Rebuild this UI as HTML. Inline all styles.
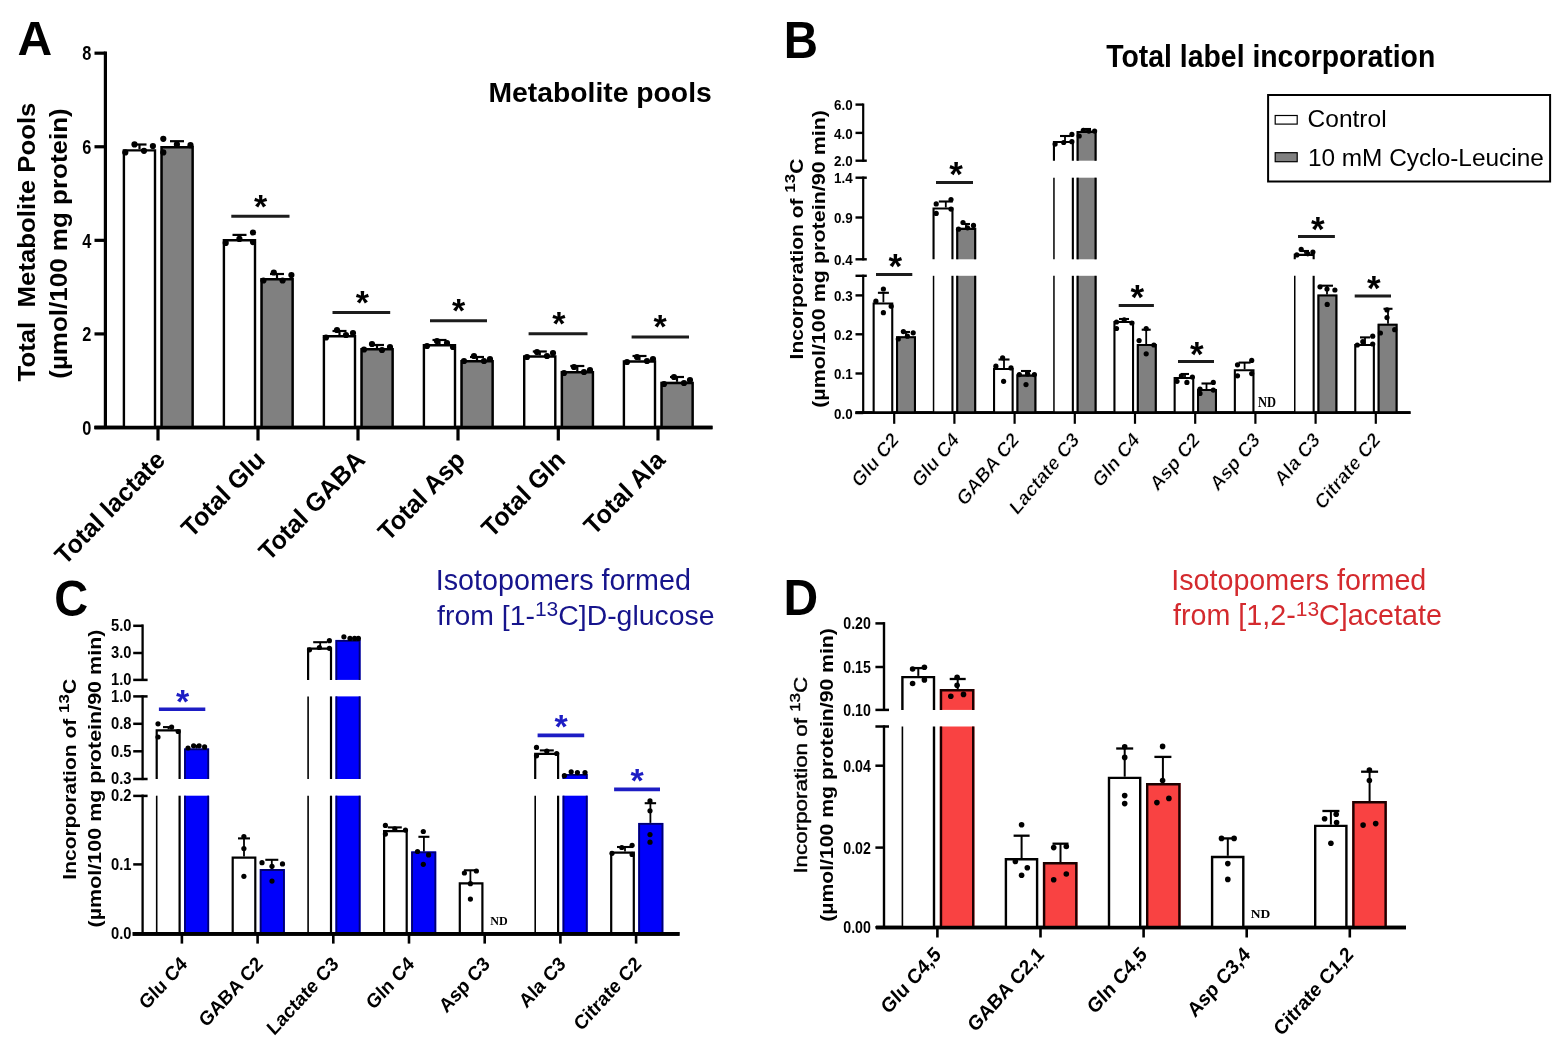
<!DOCTYPE html><html><head><meta charset="utf-8"><title>Figure</title><style>html,body{margin:0;padding:0;background:#fff;}svg{display:block;}</style></head><body>
<svg width="1561" height="1046" viewBox="0 0 1561 1046">
<rect width="1561" height="1046" fill="#fff"/>
<text transform="translate(17.5,54.5)" font-family="'Liberation Sans', Arial, sans-serif" font-size="48" font-weight="bold" text-anchor="start" fill="#000">A</text>
<text transform="translate(488.5,102)" font-family="'Liberation Sans', Arial, sans-serif" font-size="28.3" font-weight="bold" text-anchor="start" fill="#000">Metabolite pools</text>
<text transform="translate(35,242) scale(0.94,1) rotate(-90)" font-family="'Liberation Sans', Arial, sans-serif" font-size="25.8" font-weight="bold" text-anchor="middle" fill="#000">Total&#160; Metabolite Pools</text>
<text transform="translate(67,243.5) scale(0.94,1) rotate(-90)" font-family="'Liberation Sans', Arial, sans-serif" font-size="26" font-weight="bold" text-anchor="middle" fill="#000">(µmol/100 mg protein)</text>
<line x1="105.4" y1="51.5" x2="105.4" y2="429" stroke="#000" stroke-width="3.2" stroke-linecap="butt"/>
<line x1="94.5" y1="427.5" x2="712.5" y2="427.5" stroke="#000" stroke-width="3.5" stroke-linecap="butt"/>
<line x1="94.5" y1="53.18" x2="105.4" y2="53.18" stroke="#000" stroke-width="3.2" stroke-linecap="butt"/>
<text transform="translate(91.3,60.38) scale(0.84,1)" font-family="'Liberation Sans', Arial, sans-serif" font-size="19.5" font-weight="bold" text-anchor="end" fill="#000">8</text>
<line x1="94.5" y1="146.76" x2="105.4" y2="146.76" stroke="#000" stroke-width="3.2" stroke-linecap="butt"/>
<text transform="translate(91.3,153.96) scale(0.84,1)" font-family="'Liberation Sans', Arial, sans-serif" font-size="19.5" font-weight="bold" text-anchor="end" fill="#000">6</text>
<line x1="94.5" y1="240.34" x2="105.4" y2="240.34" stroke="#000" stroke-width="3.2" stroke-linecap="butt"/>
<text transform="translate(91.3,247.54) scale(0.84,1)" font-family="'Liberation Sans', Arial, sans-serif" font-size="19.5" font-weight="bold" text-anchor="end" fill="#000">4</text>
<line x1="94.5" y1="333.92" x2="105.4" y2="333.92" stroke="#000" stroke-width="3.2" stroke-linecap="butt"/>
<text transform="translate(91.3,341.12) scale(0.84,1)" font-family="'Liberation Sans', Arial, sans-serif" font-size="19.5" font-weight="bold" text-anchor="end" fill="#000">2</text>
<line x1="94.5" y1="427.5" x2="105.4" y2="427.5" stroke="#000" stroke-width="3.2" stroke-linecap="butt"/>
<text transform="translate(91.3,434.7) scale(0.84,1)" font-family="'Liberation Sans', Arial, sans-serif" font-size="19.5" font-weight="bold" text-anchor="end" fill="#000">0</text>
<rect x="122.7" y="149.2" width="33.5" height="278.3" fill="#fff"/>
<path d="M123.9,427.5 V150.4 H155 V427.5" fill="none" stroke="#000" stroke-width="2.4"/>
<rect x="160.4" y="146" width="33.4" height="281.5" fill="#808080"/>
<path d="M161.6,427.5 V147.2 H192.6 V427.5" fill="none" stroke="#000" stroke-width="2.4"/>
<line x1="158" y1="427.5" x2="158" y2="440.5" stroke="#000" stroke-width="3.2" stroke-linecap="butt"/>
<text transform="translate(166.5,461.5) scale(0.97,1) rotate(-45)" font-family="'Liberation Sans', Arial, sans-serif" font-size="25.7" font-weight="bold" text-anchor="end" fill="#000">Total lactate</text>
<rect x="222.7" y="239" width="33.5" height="188.5" fill="#fff"/>
<path d="M223.9,427.5 V240.2 H255 V427.5" fill="none" stroke="#000" stroke-width="2.4"/>
<rect x="260.4" y="278" width="33.4" height="149.5" fill="#808080"/>
<path d="M261.6,427.5 V279.2 H292.6 V427.5" fill="none" stroke="#000" stroke-width="2.4"/>
<line x1="258" y1="427.5" x2="258" y2="440.5" stroke="#000" stroke-width="3.2" stroke-linecap="butt"/>
<text transform="translate(266.5,461.5) scale(0.97,1) rotate(-45)" font-family="'Liberation Sans', Arial, sans-serif" font-size="25.7" font-weight="bold" text-anchor="end" fill="#000">Total Glu</text>
<rect x="322.7" y="335" width="33.5" height="92.5" fill="#fff"/>
<path d="M323.9,427.5 V336.2 H355 V427.5" fill="none" stroke="#000" stroke-width="2.4"/>
<rect x="360.4" y="348" width="33.4" height="79.5" fill="#808080"/>
<path d="M361.6,427.5 V349.2 H392.6 V427.5" fill="none" stroke="#000" stroke-width="2.4"/>
<line x1="358" y1="427.5" x2="358" y2="440.5" stroke="#000" stroke-width="3.2" stroke-linecap="butt"/>
<text transform="translate(366.5,461.5) scale(0.97,1) rotate(-45)" font-family="'Liberation Sans', Arial, sans-serif" font-size="25.7" font-weight="bold" text-anchor="end" fill="#000">Total GABA</text>
<rect x="422.7" y="344" width="33.5" height="83.5" fill="#fff"/>
<path d="M423.9,427.5 V345.2 H455 V427.5" fill="none" stroke="#000" stroke-width="2.4"/>
<rect x="460.4" y="360" width="33.4" height="67.5" fill="#808080"/>
<path d="M461.6,427.5 V361.2 H492.6 V427.5" fill="none" stroke="#000" stroke-width="2.4"/>
<line x1="458" y1="427.5" x2="458" y2="440.5" stroke="#000" stroke-width="3.2" stroke-linecap="butt"/>
<text transform="translate(466.5,461.5) scale(0.97,1) rotate(-45)" font-family="'Liberation Sans', Arial, sans-serif" font-size="25.7" font-weight="bold" text-anchor="end" fill="#000">Total Asp</text>
<rect x="523" y="355.3" width="33.5" height="72.2" fill="#fff"/>
<path d="M524.2,427.5 V356.5 H555.3 V427.5" fill="none" stroke="#000" stroke-width="2.4"/>
<rect x="560.7" y="371" width="33.4" height="56.5" fill="#808080"/>
<path d="M561.9,427.5 V372.2 H592.9 V427.5" fill="none" stroke="#000" stroke-width="2.4"/>
<line x1="558.3" y1="427.5" x2="558.3" y2="440.5" stroke="#000" stroke-width="3.2" stroke-linecap="butt"/>
<text transform="translate(566.8,461.5) scale(0.97,1) rotate(-45)" font-family="'Liberation Sans', Arial, sans-serif" font-size="25.7" font-weight="bold" text-anchor="end" fill="#000">Total Gln</text>
<rect x="622.7" y="360.3" width="33.5" height="67.2" fill="#fff"/>
<path d="M623.9,427.5 V361.5 H655 V427.5" fill="none" stroke="#000" stroke-width="2.4"/>
<rect x="660.4" y="381.8" width="33.4" height="45.7" fill="#808080"/>
<path d="M661.6,427.5 V383 H692.6 V427.5" fill="none" stroke="#000" stroke-width="2.4"/>
<line x1="658" y1="427.5" x2="658" y2="440.5" stroke="#000" stroke-width="3.2" stroke-linecap="butt"/>
<text transform="translate(666.5,461.5) scale(0.97,1) rotate(-45)" font-family="'Liberation Sans', Arial, sans-serif" font-size="25.7" font-weight="bold" text-anchor="end" fill="#000">Total Ala</text>
<line x1="139.5" y1="149.2" x2="139.5" y2="144.5" stroke="#000" stroke-width="2.2" stroke-linecap="butt"/>
<line x1="132.5" y1="144.5" x2="146.5" y2="144.5" stroke="#000" stroke-width="2.2" stroke-linecap="butt"/>
<line x1="177" y1="146" x2="177" y2="141.2" stroke="#000" stroke-width="2.2" stroke-linecap="butt"/>
<line x1="170" y1="141.2" x2="184" y2="141.2" stroke="#000" stroke-width="2.2" stroke-linecap="butt"/>
<circle cx="125.3" cy="152.4" r="3.1" fill="#000"/>
<circle cx="134.5" cy="144.4" r="3.1" fill="#000"/>
<circle cx="144" cy="150.8" r="3.1" fill="#000"/>
<circle cx="152.9" cy="146" r="3.1" fill="#000"/>
<circle cx="163.3" cy="138.8" r="3.1" fill="#000"/>
<circle cx="163.3" cy="152.4" r="3.1" fill="#000"/>
<circle cx="176.9" cy="144.4" r="3.1" fill="#000"/>
<circle cx="190.5" cy="145.2" r="3.1" fill="#000"/>
<line x1="239.5" y1="239" x2="239.5" y2="234.9" stroke="#000" stroke-width="2.2" stroke-linecap="butt"/>
<line x1="232.5" y1="234.9" x2="246.5" y2="234.9" stroke="#000" stroke-width="2.2" stroke-linecap="butt"/>
<line x1="277" y1="278" x2="277" y2="274" stroke="#000" stroke-width="2.2" stroke-linecap="butt"/>
<line x1="270" y1="274" x2="284" y2="274" stroke="#000" stroke-width="2.2" stroke-linecap="butt"/>
<circle cx="225.7" cy="242.9" r="3.1" fill="#000"/>
<circle cx="239.4" cy="238.9" r="3.1" fill="#000"/>
<circle cx="253" cy="232.5" r="3.1" fill="#000"/>
<circle cx="253" cy="242.1" r="3.1" fill="#000"/>
<circle cx="263.4" cy="280.5" r="3.1" fill="#000"/>
<circle cx="273.8" cy="272.5" r="3.1" fill="#000"/>
<circle cx="282.6" cy="280.5" r="3.1" fill="#000"/>
<circle cx="291.4" cy="275" r="3.1" fill="#000"/>
<line x1="339.5" y1="335" x2="339.5" y2="331" stroke="#000" stroke-width="2.2" stroke-linecap="butt"/>
<line x1="332.5" y1="331" x2="346.5" y2="331" stroke="#000" stroke-width="2.2" stroke-linecap="butt"/>
<line x1="377" y1="348" x2="377" y2="345" stroke="#000" stroke-width="2.2" stroke-linecap="butt"/>
<line x1="370" y1="345" x2="384" y2="345" stroke="#000" stroke-width="2.2" stroke-linecap="butt"/>
<circle cx="326" cy="337.5" r="3.1" fill="#000"/>
<circle cx="337" cy="330" r="3.1" fill="#000"/>
<circle cx="346" cy="335" r="3.1" fill="#000"/>
<circle cx="353" cy="333" r="3.1" fill="#000"/>
<circle cx="364" cy="349.5" r="3.1" fill="#000"/>
<circle cx="372" cy="344" r="3.1" fill="#000"/>
<circle cx="382" cy="350" r="3.1" fill="#000"/>
<circle cx="390" cy="347" r="3.1" fill="#000"/>
<line x1="439.5" y1="344" x2="439.5" y2="340" stroke="#000" stroke-width="2.2" stroke-linecap="butt"/>
<line x1="432.5" y1="340" x2="446.5" y2="340" stroke="#000" stroke-width="2.2" stroke-linecap="butt"/>
<line x1="477" y1="360" x2="477" y2="357" stroke="#000" stroke-width="2.2" stroke-linecap="butt"/>
<line x1="470" y1="357" x2="484" y2="357" stroke="#000" stroke-width="2.2" stroke-linecap="butt"/>
<circle cx="427" cy="346" r="3.1" fill="#000"/>
<circle cx="437" cy="341" r="3.1" fill="#000"/>
<circle cx="447" cy="343" r="3.1" fill="#000"/>
<circle cx="453" cy="347" r="3.1" fill="#000"/>
<circle cx="464" cy="361" r="3.1" fill="#000"/>
<circle cx="474" cy="356" r="3.1" fill="#000"/>
<circle cx="484" cy="361" r="3.1" fill="#000"/>
<circle cx="490" cy="359" r="3.1" fill="#000"/>
<line x1="539.8" y1="355.3" x2="539.8" y2="351.5" stroke="#000" stroke-width="2.2" stroke-linecap="butt"/>
<line x1="532.8" y1="351.5" x2="546.8" y2="351.5" stroke="#000" stroke-width="2.2" stroke-linecap="butt"/>
<line x1="577.3" y1="371" x2="577.3" y2="366" stroke="#000" stroke-width="2.2" stroke-linecap="butt"/>
<line x1="570.3" y1="366" x2="584.3" y2="366" stroke="#000" stroke-width="2.2" stroke-linecap="butt"/>
<circle cx="527" cy="357" r="3.1" fill="#000"/>
<circle cx="537" cy="352" r="3.1" fill="#000"/>
<circle cx="547" cy="356" r="3.1" fill="#000"/>
<circle cx="553" cy="353" r="3.1" fill="#000"/>
<circle cx="564" cy="373" r="3.1" fill="#000"/>
<circle cx="574" cy="367" r="3.1" fill="#000"/>
<circle cx="584" cy="372" r="3.1" fill="#000"/>
<circle cx="590" cy="370" r="3.1" fill="#000"/>
<line x1="639.5" y1="360.3" x2="639.5" y2="356" stroke="#000" stroke-width="2.2" stroke-linecap="butt"/>
<line x1="632.5" y1="356" x2="646.5" y2="356" stroke="#000" stroke-width="2.2" stroke-linecap="butt"/>
<line x1="677" y1="381.8" x2="677" y2="377" stroke="#000" stroke-width="2.2" stroke-linecap="butt"/>
<line x1="670" y1="377" x2="684" y2="377" stroke="#000" stroke-width="2.2" stroke-linecap="butt"/>
<circle cx="627" cy="362" r="3.1" fill="#000"/>
<circle cx="637" cy="357" r="3.1" fill="#000"/>
<circle cx="647" cy="361" r="3.1" fill="#000"/>
<circle cx="653" cy="359" r="3.1" fill="#000"/>
<circle cx="664" cy="384" r="3.1" fill="#000"/>
<circle cx="674" cy="377" r="3.1" fill="#000"/>
<circle cx="684" cy="383" r="3.1" fill="#000"/>
<circle cx="690" cy="380" r="3.1" fill="#000"/>
<line x1="94.5" y1="427.5" x2="712.5" y2="427.5" stroke="#000" stroke-width="3.5" stroke-linecap="butt"/>
<line x1="231.3" y1="216.2" x2="289.5" y2="216.2" stroke="#1c1c1c" stroke-width="3" stroke-linecap="butt"/>
<text transform="translate(260.6,217.67)" font-family="'Liberation Sans', Arial, sans-serif" font-size="34" font-weight="bold" text-anchor="middle" fill="#000">*</text>
<line x1="332.5" y1="312.6" x2="390.2" y2="312.6" stroke="#1c1c1c" stroke-width="3" stroke-linecap="butt"/>
<text transform="translate(362.3,313.97)" font-family="'Liberation Sans', Arial, sans-serif" font-size="34" font-weight="bold" text-anchor="middle" fill="#000">*</text>
<line x1="430" y1="320.7" x2="487" y2="320.7" stroke="#1c1c1c" stroke-width="3" stroke-linecap="butt"/>
<text transform="translate(458.5,322.17)" font-family="'Liberation Sans', Arial, sans-serif" font-size="34" font-weight="bold" text-anchor="middle" fill="#000">*</text>
<line x1="528.6" y1="333.8" x2="587.5" y2="333.8" stroke="#1c1c1c" stroke-width="3" stroke-linecap="butt"/>
<text transform="translate(558.8,335.17)" font-family="'Liberation Sans', Arial, sans-serif" font-size="34" font-weight="bold" text-anchor="middle" fill="#000">*</text>
<line x1="631.6" y1="337" x2="689" y2="337" stroke="#1c1c1c" stroke-width="3" stroke-linecap="butt"/>
<text transform="translate(660,337.97)" font-family="'Liberation Sans', Arial, sans-serif" font-size="34" font-weight="bold" text-anchor="middle" fill="#000">*</text>
<text transform="translate(783.8,58.4) scale(0.93,1)" font-family="'Liberation Sans', Arial, sans-serif" font-size="51" font-weight="bold" text-anchor="start" fill="#000">B</text>
<text transform="translate(1106.3,67) scale(0.91,1)" font-family="'Liberation Sans', Arial, sans-serif" font-size="31.2" font-weight="bold" text-anchor="start" fill="#000">Total label incorporation</text>
<rect x="1268.1" y="95" width="282" height="86.5" fill="#fff" stroke="#000" stroke-width="2"/>
<rect x="1275.2" y="115.5" width="22" height="8.6" fill="#fff" stroke="#000" stroke-width="1.2"/>
<rect x="1275.2" y="152.7" width="22" height="9" fill="#808080" stroke="#000" stroke-width="1.2"/>
<text transform="translate(1307.6,127.2)" font-family="'Liberation Sans', Arial, sans-serif" font-size="24.5" font-weight="normal" text-anchor="start" fill="#000">Control</text>
<text transform="translate(1307.9,166.4)" font-family="'Liberation Sans', Arial, sans-serif" font-size="24.4" font-weight="normal" text-anchor="start" fill="#000">10 mM Cyclo-Leucine</text>
<text transform="translate(802.5,259) scale(0.86,1) rotate(-90)" font-family="'Liberation Sans', Arial, sans-serif" font-size="21" font-weight="bold" text-anchor="middle" fill="#000">Incorporation of <tspan font-size="17" dy="-8.5">13</tspan><tspan dy="8.5">C</tspan></text>
<text transform="translate(824.8,258.9) scale(0.86,1) rotate(-90)" font-family="'Liberation Sans', Arial, sans-serif" font-size="21.5" font-weight="bold" text-anchor="middle" fill="#000">(µmol/100 mg protein/90 min)</text>
<line x1="863.2" y1="274.7" x2="863.2" y2="413" stroke="#000" stroke-width="2.2" stroke-linecap="butt"/>
<line x1="863.2" y1="176.6" x2="863.2" y2="260.4" stroke="#000" stroke-width="2.2" stroke-linecap="butt"/>
<line x1="863.2" y1="103.5" x2="863.2" y2="161.8" stroke="#000" stroke-width="2.2" stroke-linecap="butt"/>
<line x1="855.5" y1="104.6" x2="863.2" y2="104.6" stroke="#000" stroke-width="2.4" stroke-linecap="butt"/>
<text transform="translate(852.6,110.2) scale(0.87,1)" font-family="'Liberation Sans', Arial, sans-serif" font-size="15.4" font-weight="bold" text-anchor="end" fill="#000">6.0</text>
<line x1="855.5" y1="132.9" x2="863.2" y2="132.9" stroke="#000" stroke-width="2.4" stroke-linecap="butt"/>
<text transform="translate(852.6,138.5) scale(0.87,1)" font-family="'Liberation Sans', Arial, sans-serif" font-size="15.4" font-weight="bold" text-anchor="end" fill="#000">4.0</text>
<line x1="855.5" y1="160.7" x2="866.8" y2="160.7" stroke="#000" stroke-width="2.4" stroke-linecap="butt"/>
<text transform="translate(852.6,166.3) scale(0.87,1)" font-family="'Liberation Sans', Arial, sans-serif" font-size="15.4" font-weight="bold" text-anchor="end" fill="#000">2.0</text>
<line x1="855.5" y1="177.7" x2="866.8" y2="177.7" stroke="#000" stroke-width="2.4" stroke-linecap="butt"/>
<text transform="translate(852.6,183.3) scale(0.87,1)" font-family="'Liberation Sans', Arial, sans-serif" font-size="15.4" font-weight="bold" text-anchor="end" fill="#000">1.4</text>
<line x1="855.5" y1="217.5" x2="863.2" y2="217.5" stroke="#000" stroke-width="2.4" stroke-linecap="butt"/>
<text transform="translate(852.6,223.1) scale(0.87,1)" font-family="'Liberation Sans', Arial, sans-serif" font-size="15.4" font-weight="bold" text-anchor="end" fill="#000">0.9</text>
<line x1="855.5" y1="259.3" x2="866.8" y2="259.3" stroke="#000" stroke-width="2.4" stroke-linecap="butt"/>
<text transform="translate(852.6,264.9) scale(0.87,1)" font-family="'Liberation Sans', Arial, sans-serif" font-size="15.4" font-weight="bold" text-anchor="end" fill="#000">0.4</text>
<line x1="855.5" y1="275.8" x2="866.8" y2="275.8" stroke="#000" stroke-width="2.4" stroke-linecap="butt"/>
<line x1="855.5" y1="295.4" x2="863.2" y2="295.4" stroke="#000" stroke-width="2.4" stroke-linecap="butt"/>
<text transform="translate(852.6,301) scale(0.87,1)" font-family="'Liberation Sans', Arial, sans-serif" font-size="15.4" font-weight="bold" text-anchor="end" fill="#000">0.3</text>
<line x1="855.5" y1="334.3" x2="863.2" y2="334.3" stroke="#000" stroke-width="2.4" stroke-linecap="butt"/>
<text transform="translate(852.6,339.9) scale(0.87,1)" font-family="'Liberation Sans', Arial, sans-serif" font-size="15.4" font-weight="bold" text-anchor="end" fill="#000">0.2</text>
<line x1="855.5" y1="373.5" x2="863.2" y2="373.5" stroke="#000" stroke-width="2.4" stroke-linecap="butt"/>
<text transform="translate(852.6,379.1) scale(0.87,1)" font-family="'Liberation Sans', Arial, sans-serif" font-size="15.4" font-weight="bold" text-anchor="end" fill="#000">0.1</text>
<line x1="855.5" y1="413" x2="863.2" y2="413" stroke="#000" stroke-width="2.4" stroke-linecap="butt"/>
<text transform="translate(852.6,418.6) scale(0.87,1)" font-family="'Liberation Sans', Arial, sans-serif" font-size="15.4" font-weight="bold" text-anchor="end" fill="#000">0.0</text>
<line x1="855.5" y1="412.6" x2="1410.5" y2="412.6" stroke="#000" stroke-width="2.9" stroke-linecap="butt"/>
<rect x="872.6" y="302.4" width="20.7" height="110.6" fill="#fff"/>
<path d="M873.65,413 V303.45 H892.25 V413" fill="none" stroke="#000" stroke-width="2.1"/>
<line x1="883.4" y1="302.4" x2="883.4" y2="292.8" stroke="#000" stroke-width="1.8" stroke-linecap="butt"/>
<line x1="877.9" y1="292.8" x2="888.9" y2="292.8" stroke="#000" stroke-width="2.1" stroke-linecap="butt"/>
<circle cx="883.4" cy="289" r="2.6" fill="#000"/>
<circle cx="883.4" cy="312.7" r="2.6" fill="#000"/>
<circle cx="875.9" cy="301.2" r="2.6" fill="#000"/>
<circle cx="891.2" cy="306.2" r="2.6" fill="#000"/>
<rect x="896" y="336.2" width="20" height="76.8" fill="#808080"/>
<path d="M897.05,413 V337.25 H914.95 V413" fill="none" stroke="#000" stroke-width="2.1"/>
<line x1="906" y1="336.2" x2="906" y2="332" stroke="#000" stroke-width="1.8" stroke-linecap="butt"/>
<line x1="902" y1="332" x2="910" y2="332" stroke="#000" stroke-width="2.1" stroke-linecap="butt"/>
<circle cx="898.3" cy="339" r="2.6" fill="#000"/>
<circle cx="903.4" cy="331.6" r="2.6" fill="#000"/>
<circle cx="907.4" cy="336.2" r="2.6" fill="#000"/>
<circle cx="913.2" cy="332.8" r="2.6" fill="#000"/>
<line x1="894.2" y1="413" x2="894.2" y2="423.8" stroke="#000" stroke-width="2.2" stroke-linecap="butt"/>
<text transform="translate(899.4,441) scale(0.84,1) rotate(-45)" font-family="'Liberation Sans', Arial, sans-serif" font-size="21" font-weight="bold" text-anchor="end" fill="#000" stroke="#fff" stroke-width="0.45">Glu C2</text>
<rect x="932.8" y="275.8" width="20.7" height="137.2" fill="#fff"/>
<line x1="933.55" y1="275.8" x2="933.55" y2="413" stroke="#000" stroke-width="1.5"/>
<line x1="952.45" y1="275.8" x2="952.45" y2="413" stroke="#000" stroke-width="2.1"/>
<rect x="932.8" y="207.5" width="20.7" height="51.8" fill="#fff"/>
<path d="M933.55,259.3 V208.55 H952.45 V259.3" fill="none" stroke="#000" stroke-width="2.1"/>
<line x1="945.8" y1="207.5" x2="945.8" y2="201.5" stroke="#000" stroke-width="1.8" stroke-linecap="butt"/>
<line x1="938.8" y1="201.5" x2="952.8" y2="201.5" stroke="#000" stroke-width="2.1" stroke-linecap="butt"/>
<circle cx="936.2" cy="203.9" r="2.6" fill="#000"/>
<circle cx="951" cy="199.6" r="2.6" fill="#000"/>
<circle cx="951" cy="209.1" r="2.6" fill="#000"/>
<circle cx="936.2" cy="213.4" r="2.6" fill="#000"/>
<rect x="956.2" y="275.8" width="20" height="137.2" fill="#808080"/>
<line x1="957.25" y1="275.8" x2="957.25" y2="413" stroke="#000" stroke-width="2.1"/>
<line x1="975.15" y1="275.8" x2="975.15" y2="413" stroke="#000" stroke-width="2.1"/>
<rect x="956.2" y="227.8" width="20" height="31.5" fill="#808080"/>
<path d="M957.25,259.3 V228.85 H975.15 V259.3" fill="none" stroke="#000" stroke-width="2.1"/>
<line x1="966" y1="227.8" x2="966" y2="224" stroke="#000" stroke-width="1.8" stroke-linecap="butt"/>
<line x1="962" y1="224" x2="970" y2="224" stroke="#000" stroke-width="2.1" stroke-linecap="butt"/>
<circle cx="958.5" cy="229.2" r="2.6" fill="#000"/>
<circle cx="963" cy="222.5" r="2.6" fill="#000"/>
<circle cx="967.5" cy="227.8" r="2.6" fill="#000"/>
<circle cx="973.5" cy="225.4" r="2.6" fill="#000"/>
<line x1="954.4" y1="413" x2="954.4" y2="423.8" stroke="#000" stroke-width="2.2" stroke-linecap="butt"/>
<text transform="translate(959.6,441) scale(0.84,1) rotate(-45)" font-family="'Liberation Sans', Arial, sans-serif" font-size="21" font-weight="bold" text-anchor="end" fill="#000" stroke="#fff" stroke-width="0.45">Glu C4</text>
<rect x="993" y="368" width="20.7" height="45" fill="#fff"/>
<path d="M994.05,413 V369.05 H1012.65 V413" fill="none" stroke="#000" stroke-width="2.1"/>
<line x1="1004" y1="368" x2="1004" y2="359.5" stroke="#000" stroke-width="1.8" stroke-linecap="butt"/>
<line x1="998.5" y1="359.5" x2="1009.5" y2="359.5" stroke="#000" stroke-width="2.1" stroke-linecap="butt"/>
<circle cx="1002.6" cy="357.8" r="2.6" fill="#000"/>
<circle cx="995.9" cy="366.2" r="2.6" fill="#000"/>
<circle cx="1011" cy="367.9" r="2.6" fill="#000"/>
<circle cx="1003.6" cy="381.3" r="2.6" fill="#000"/>
<rect x="1016.4" y="374.6" width="20" height="38.4" fill="#808080"/>
<path d="M1017.45,413 V375.65 H1035.35 V413" fill="none" stroke="#000" stroke-width="2.1"/>
<line x1="1026" y1="374.6" x2="1026" y2="371" stroke="#000" stroke-width="1.8" stroke-linecap="butt"/>
<line x1="1021" y1="371" x2="1031" y2="371" stroke="#000" stroke-width="2.1" stroke-linecap="butt"/>
<circle cx="1019.3" cy="374.6" r="2.6" fill="#000"/>
<circle cx="1027.7" cy="373.9" r="2.6" fill="#000"/>
<circle cx="1034.4" cy="374.6" r="2.6" fill="#000"/>
<circle cx="1026" cy="384.6" r="2.6" fill="#000"/>
<line x1="1014.6" y1="413" x2="1014.6" y2="423.8" stroke="#000" stroke-width="2.2" stroke-linecap="butt"/>
<text transform="translate(1019.8,441) scale(0.84,1) rotate(-45)" font-family="'Liberation Sans', Arial, sans-serif" font-size="21" font-weight="bold" text-anchor="end" fill="#000" stroke="#fff" stroke-width="0.45">GABA C2</text>
<rect x="1053.2" y="275.8" width="20.7" height="137.2" fill="#fff"/>
<line x1="1053.95" y1="275.8" x2="1053.95" y2="413" stroke="#000" stroke-width="1.5"/>
<line x1="1072.85" y1="275.8" x2="1072.85" y2="413" stroke="#000" stroke-width="2.1"/>
<rect x="1053.2" y="177.7" width="20.7" height="81.6" fill="#fff"/>
<line x1="1053.95" y1="177.7" x2="1053.95" y2="259.3" stroke="#000" stroke-width="1.5"/>
<line x1="1072.85" y1="177.7" x2="1072.85" y2="259.3" stroke="#000" stroke-width="2.1"/>
<rect x="1053.2" y="140.9" width="20.7" height="19.8" fill="#fff"/>
<path d="M1053.95,160.7 V141.95 H1072.85 V160.7" fill="none" stroke="#000" stroke-width="2.1"/>
<line x1="1065" y1="140.9" x2="1065" y2="136" stroke="#000" stroke-width="1.8" stroke-linecap="butt"/>
<line x1="1060" y1="136" x2="1070" y2="136" stroke="#000" stroke-width="2.1" stroke-linecap="butt"/>
<circle cx="1055.1" cy="144.1" r="2.6" fill="#000"/>
<circle cx="1063.7" cy="142.5" r="2.6" fill="#000"/>
<circle cx="1071.9" cy="134.4" r="2.6" fill="#000"/>
<circle cx="1071.9" cy="141.7" r="2.6" fill="#000"/>
<rect x="1076.6" y="275.8" width="20" height="137.2" fill="#808080"/>
<line x1="1077.65" y1="275.8" x2="1077.65" y2="413" stroke="#000" stroke-width="2.1"/>
<line x1="1095.55" y1="275.8" x2="1095.55" y2="413" stroke="#000" stroke-width="2.1"/>
<rect x="1076.6" y="177.7" width="20" height="81.6" fill="#808080"/>
<line x1="1077.65" y1="177.7" x2="1077.65" y2="259.3" stroke="#000" stroke-width="2.1"/>
<line x1="1095.55" y1="177.7" x2="1095.55" y2="259.3" stroke="#000" stroke-width="2.1"/>
<rect x="1076.6" y="131" width="20" height="29.7" fill="#808080"/>
<path d="M1077.65,160.7 V132.05 H1095.55 V160.7" fill="none" stroke="#000" stroke-width="2.1"/>
<line x1="1087" y1="131" x2="1087" y2="129" stroke="#000" stroke-width="1.8" stroke-linecap="butt"/>
<line x1="1083" y1="129" x2="1091" y2="129" stroke="#000" stroke-width="2.1" stroke-linecap="butt"/>
<circle cx="1079.2" cy="136" r="2.6" fill="#000"/>
<circle cx="1083.3" cy="130.3" r="2.6" fill="#000"/>
<circle cx="1088.9" cy="131.1" r="2.6" fill="#000"/>
<circle cx="1094.6" cy="131.1" r="2.6" fill="#000"/>
<line x1="1074.8" y1="413" x2="1074.8" y2="423.8" stroke="#000" stroke-width="2.2" stroke-linecap="butt"/>
<text transform="translate(1080,441) scale(0.84,1) rotate(-45)" font-family="'Liberation Sans', Arial, sans-serif" font-size="21" font-weight="bold" text-anchor="end" fill="#000" stroke="#fff" stroke-width="0.45">Lactate C3</text>
<rect x="1113.4" y="320.9" width="20.7" height="92.1" fill="#fff"/>
<path d="M1114.45,413 V321.95 H1133.05 V413" fill="none" stroke="#000" stroke-width="2.1"/>
<line x1="1124" y1="320.9" x2="1124" y2="319" stroke="#000" stroke-width="1.8" stroke-linecap="butt"/>
<line x1="1119" y1="319" x2="1129" y2="319" stroke="#000" stroke-width="2.1" stroke-linecap="butt"/>
<circle cx="1116.5" cy="322" r="2.6" fill="#000"/>
<circle cx="1116.5" cy="328.5" r="2.6" fill="#000"/>
<circle cx="1124.2" cy="319.8" r="2.6" fill="#000"/>
<circle cx="1131.9" cy="323" r="2.6" fill="#000"/>
<rect x="1136.8" y="344" width="20" height="69" fill="#808080"/>
<path d="M1137.85,413 V345.05 H1155.75 V413" fill="none" stroke="#000" stroke-width="2.1"/>
<line x1="1146.2" y1="344" x2="1146.2" y2="329.7" stroke="#000" stroke-width="1.8" stroke-linecap="butt"/>
<line x1="1141.7" y1="329.7" x2="1150.7" y2="329.7" stroke="#000" stroke-width="2.1" stroke-linecap="butt"/>
<circle cx="1146.2" cy="328.6" r="2.6" fill="#000"/>
<circle cx="1139.1" cy="340.6" r="2.6" fill="#000"/>
<circle cx="1153.9" cy="345" r="2.6" fill="#000"/>
<circle cx="1146.2" cy="353.8" r="2.6" fill="#000"/>
<line x1="1135" y1="413" x2="1135" y2="423.8" stroke="#000" stroke-width="2.2" stroke-linecap="butt"/>
<text transform="translate(1140.2,441) scale(0.84,1) rotate(-45)" font-family="'Liberation Sans', Arial, sans-serif" font-size="21" font-weight="bold" text-anchor="end" fill="#000" stroke="#fff" stroke-width="0.45">Gln C4</text>
<rect x="1173.6" y="377" width="20.7" height="36" fill="#fff"/>
<path d="M1174.65,413 V378.05 H1193.25 V413" fill="none" stroke="#000" stroke-width="2.1"/>
<line x1="1185" y1="377" x2="1185" y2="374" stroke="#000" stroke-width="1.8" stroke-linecap="butt"/>
<line x1="1181" y1="374" x2="1189" y2="374" stroke="#000" stroke-width="2.1" stroke-linecap="butt"/>
<circle cx="1177" cy="381.3" r="2.6" fill="#000"/>
<circle cx="1181.4" cy="375.8" r="2.6" fill="#000"/>
<circle cx="1186.9" cy="382.4" r="2.6" fill="#000"/>
<circle cx="1192.4" cy="377" r="2.6" fill="#000"/>
<rect x="1197" y="389" width="20" height="24" fill="#808080"/>
<path d="M1198.05,413 V390.05 H1215.95 V413" fill="none" stroke="#000" stroke-width="2.1"/>
<line x1="1206.5" y1="389" x2="1206.5" y2="383.5" stroke="#000" stroke-width="1.8" stroke-linecap="butt"/>
<line x1="1201.5" y1="383.5" x2="1211.5" y2="383.5" stroke="#000" stroke-width="2.1" stroke-linecap="butt"/>
<circle cx="1200" cy="389" r="2.6" fill="#000"/>
<circle cx="1200" cy="393.4" r="2.6" fill="#000"/>
<circle cx="1213.3" cy="382.4" r="2.6" fill="#000"/>
<circle cx="1213.3" cy="390.1" r="2.6" fill="#000"/>
<line x1="1195.2" y1="413" x2="1195.2" y2="423.8" stroke="#000" stroke-width="2.2" stroke-linecap="butt"/>
<text transform="translate(1200.4,441) scale(0.84,1) rotate(-45)" font-family="'Liberation Sans', Arial, sans-serif" font-size="21" font-weight="bold" text-anchor="end" fill="#000" stroke="#fff" stroke-width="0.45">Asp C2</text>
<rect x="1233.8" y="369.2" width="20.7" height="43.8" fill="#fff"/>
<path d="M1234.85,413 V370.25 H1253.45 V413" fill="none" stroke="#000" stroke-width="2.1"/>
<line x1="1244.6" y1="369.2" x2="1244.6" y2="362.6" stroke="#000" stroke-width="1.8" stroke-linecap="butt"/>
<line x1="1238.6" y1="362.6" x2="1250.6" y2="362.6" stroke="#000" stroke-width="2.1" stroke-linecap="butt"/>
<circle cx="1237.5" cy="364.8" r="2.6" fill="#000"/>
<circle cx="1237.5" cy="375.8" r="2.6" fill="#000"/>
<circle cx="1251.7" cy="360.4" r="2.6" fill="#000"/>
<circle cx="1251.7" cy="373.6" r="2.6" fill="#000"/>
<line x1="1255.4" y1="413" x2="1255.4" y2="423.8" stroke="#000" stroke-width="2.2" stroke-linecap="butt"/>
<text transform="translate(1260.6,441) scale(0.84,1) rotate(-45)" font-family="'Liberation Sans', Arial, sans-serif" font-size="21" font-weight="bold" text-anchor="end" fill="#000" stroke="#fff" stroke-width="0.45">Asp C3</text>
<rect x="1294" y="275.8" width="20.7" height="137.2" fill="#fff"/>
<line x1="1294.75" y1="275.8" x2="1294.75" y2="413" stroke="#000" stroke-width="1.5"/>
<line x1="1313.65" y1="275.8" x2="1313.65" y2="413" stroke="#000" stroke-width="2.1"/>
<rect x="1294" y="253.8" width="20.7" height="5.5" fill="#fff"/>
<path d="M1294.75,259.3 V254.85 H1313.65 V259.3" fill="none" stroke="#000" stroke-width="2.1"/>
<line x1="1305" y1="253.8" x2="1305" y2="251" stroke="#000" stroke-width="1.8" stroke-linecap="butt"/>
<line x1="1301" y1="251" x2="1309" y2="251" stroke="#000" stroke-width="2.1" stroke-linecap="butt"/>
<circle cx="1296.8" cy="254.9" r="2.6" fill="#000"/>
<circle cx="1301.2" cy="249.4" r="2.6" fill="#000"/>
<circle cx="1307.8" cy="253.8" r="2.6" fill="#000"/>
<circle cx="1312.9" cy="252" r="2.6" fill="#000"/>
<rect x="1317.4" y="294.5" width="20" height="118.5" fill="#808080"/>
<path d="M1318.45,413 V295.55 H1336.35 V413" fill="none" stroke="#000" stroke-width="2.1"/>
<line x1="1327" y1="294.5" x2="1327" y2="285.7" stroke="#000" stroke-width="1.8" stroke-linecap="butt"/>
<line x1="1321" y1="285.7" x2="1333" y2="285.7" stroke="#000" stroke-width="2.1" stroke-linecap="butt"/>
<circle cx="1320" cy="286.8" r="2.6" fill="#000"/>
<circle cx="1327.2" cy="304.4" r="2.6" fill="#000"/>
<circle cx="1334.9" cy="290" r="2.6" fill="#000"/>
<circle cx="1327" cy="289" r="2.6" fill="#000"/>
<line x1="1315.6" y1="413" x2="1315.6" y2="423.8" stroke="#000" stroke-width="2.2" stroke-linecap="butt"/>
<text transform="translate(1320.8,441) scale(0.84,1) rotate(-45)" font-family="'Liberation Sans', Arial, sans-serif" font-size="21" font-weight="bold" text-anchor="end" fill="#000" stroke="#fff" stroke-width="0.45">Ala C3</text>
<rect x="1354.2" y="344" width="20.7" height="69" fill="#fff"/>
<path d="M1355.25,413 V345.05 H1373.85 V413" fill="none" stroke="#000" stroke-width="2.1"/>
<line x1="1365" y1="344" x2="1365" y2="337.4" stroke="#000" stroke-width="1.8" stroke-linecap="butt"/>
<line x1="1360" y1="337.4" x2="1370" y2="337.4" stroke="#000" stroke-width="2.1" stroke-linecap="butt"/>
<circle cx="1357.3" cy="345" r="2.6" fill="#000"/>
<circle cx="1362.8" cy="341.7" r="2.6" fill="#000"/>
<circle cx="1372.7" cy="336.2" r="2.6" fill="#000"/>
<circle cx="1372.7" cy="344" r="2.6" fill="#000"/>
<rect x="1377.6" y="323.7" width="20" height="89.3" fill="#808080"/>
<path d="M1378.65,413 V324.75 H1396.55 V413" fill="none" stroke="#000" stroke-width="2.1"/>
<line x1="1388" y1="323.7" x2="1388" y2="308.8" stroke="#000" stroke-width="1.8" stroke-linecap="butt"/>
<line x1="1383.5" y1="308.8" x2="1392.5" y2="308.8" stroke="#000" stroke-width="2.1" stroke-linecap="butt"/>
<circle cx="1387" cy="309.9" r="2.6" fill="#000"/>
<circle cx="1387" cy="317.6" r="2.6" fill="#000"/>
<circle cx="1380.4" cy="333" r="2.6" fill="#000"/>
<circle cx="1394.7" cy="329.7" r="2.6" fill="#000"/>
<line x1="1375.8" y1="413" x2="1375.8" y2="423.8" stroke="#000" stroke-width="2.2" stroke-linecap="butt"/>
<text transform="translate(1381,441) scale(0.84,1) rotate(-45)" font-family="'Liberation Sans', Arial, sans-serif" font-size="21" font-weight="bold" text-anchor="end" fill="#000" stroke="#fff" stroke-width="0.45">Citrate C2</text>
<line x1="855.5" y1="412.6" x2="1410.5" y2="412.6" stroke="#000" stroke-width="2.9" stroke-linecap="butt"/>
<text transform="translate(1258,406.8) scale(0.85,1)" font-family="'Liberation Serif', 'Times New Roman', serif" font-size="14.7" font-weight="bold" text-anchor="start" fill="#000">ND</text>
<line x1="876" y1="274.4" x2="912.3" y2="274.4" stroke="#1c1c1c" stroke-width="3" stroke-linecap="butt"/>
<text transform="translate(895.4,278.28)" font-family="'Liberation Sans', Arial, sans-serif" font-size="35" font-weight="bold" text-anchor="middle" fill="#000">*</text>
<line x1="936" y1="182.6" x2="973" y2="182.6" stroke="#1c1c1c" stroke-width="3" stroke-linecap="butt"/>
<text transform="translate(956,186.48)" font-family="'Liberation Sans', Arial, sans-serif" font-size="35" font-weight="bold" text-anchor="middle" fill="#000">*</text>
<line x1="1118.7" y1="305.5" x2="1153.9" y2="305.5" stroke="#1c1c1c" stroke-width="3" stroke-linecap="butt"/>
<text transform="translate(1137.4,308.68)" font-family="'Liberation Sans', Arial, sans-serif" font-size="35" font-weight="bold" text-anchor="middle" fill="#000">*</text>
<line x1="1178" y1="361.5" x2="1214" y2="361.5" stroke="#1c1c1c" stroke-width="3" stroke-linecap="butt"/>
<text transform="translate(1196.8,365.98)" font-family="'Liberation Sans', Arial, sans-serif" font-size="35" font-weight="bold" text-anchor="middle" fill="#000">*</text>
<line x1="1298" y1="236.6" x2="1334.9" y2="236.6" stroke="#1c1c1c" stroke-width="3" stroke-linecap="butt"/>
<text transform="translate(1317.7,240.68)" font-family="'Liberation Sans', Arial, sans-serif" font-size="35" font-weight="bold" text-anchor="middle" fill="#000">*</text>
<line x1="1354.7" y1="296" x2="1391" y2="296" stroke="#1c1c1c" stroke-width="3" stroke-linecap="butt"/>
<text transform="translate(1373.8,300.07)" font-family="'Liberation Sans', Arial, sans-serif" font-size="35" font-weight="bold" text-anchor="middle" fill="#000">*</text>
<text transform="translate(54.2,616) scale(0.95,1)" font-family="'Liberation Sans', Arial, sans-serif" font-size="49.5" font-weight="bold" text-anchor="start" fill="#000">C</text>
<text transform="translate(435.8,589.8)" font-family="'Liberation Sans', Arial, sans-serif" font-size="28.7" font-weight="normal" text-anchor="start" fill="#16148c">Isotopomers formed</text>
<text x="437.1" y="624.5" font-family="'Liberation Sans', Arial, sans-serif" font-size="28.4" fill="#16148c">from [1-<tspan font-size="21" dy="-8.7">13</tspan><tspan dy="8.7">C]D-glucose</tspan></text>
<text transform="translate(76.1,779.3) scale(0.86,1) rotate(-90)" font-family="'Liberation Sans', Arial, sans-serif" font-size="21" font-weight="bold" text-anchor="middle" fill="#000">Incorporation of <tspan font-size="17" dy="-8.5">13</tspan><tspan dy="8.5">C</tspan></text>
<text transform="translate(100.6,778.5) scale(0.86,1) rotate(-90)" font-family="'Liberation Sans', Arial, sans-serif" font-size="21.5" font-weight="bold" text-anchor="middle" fill="#000">(µmol/100 mg protein/90 min)</text>
<line x1="142.6" y1="794.6" x2="142.6" y2="933.4" stroke="#000" stroke-width="2.3" stroke-linecap="butt"/>
<line x1="142.6" y1="695.3" x2="142.6" y2="780.1" stroke="#000" stroke-width="2.3" stroke-linecap="butt"/>
<line x1="142.6" y1="624.4" x2="142.6" y2="681" stroke="#000" stroke-width="2.3" stroke-linecap="butt"/>
<line x1="133.2" y1="625.8" x2="142.6" y2="625.8" stroke="#000" stroke-width="2.5" stroke-linecap="butt"/>
<text transform="translate(131.4,631.2) scale(0.92,1)" font-family="'Liberation Sans', Arial, sans-serif" font-size="16" font-weight="bold" text-anchor="end" fill="#000">5.0</text>
<line x1="133.2" y1="653" x2="142.6" y2="653" stroke="#000" stroke-width="2.5" stroke-linecap="butt"/>
<text transform="translate(131.4,658.4) scale(0.92,1)" font-family="'Liberation Sans', Arial, sans-serif" font-size="16" font-weight="bold" text-anchor="end" fill="#000">3.0</text>
<line x1="133.2" y1="679.9" x2="147.6" y2="679.9" stroke="#000" stroke-width="2.5" stroke-linecap="butt"/>
<text transform="translate(131.4,685.3) scale(0.92,1)" font-family="'Liberation Sans', Arial, sans-serif" font-size="16" font-weight="bold" text-anchor="end" fill="#000">1.0</text>
<line x1="133.2" y1="696.4" x2="147.6" y2="696.4" stroke="#000" stroke-width="2.5" stroke-linecap="butt"/>
<text transform="translate(131.4,701.8) scale(0.92,1)" font-family="'Liberation Sans', Arial, sans-serif" font-size="16" font-weight="bold" text-anchor="end" fill="#000">1.0</text>
<line x1="133.2" y1="723.8" x2="142.6" y2="723.8" stroke="#000" stroke-width="2.5" stroke-linecap="butt"/>
<text transform="translate(131.4,729.2) scale(0.92,1)" font-family="'Liberation Sans', Arial, sans-serif" font-size="16" font-weight="bold" text-anchor="end" fill="#000">0.8</text>
<line x1="133.2" y1="751.3" x2="142.6" y2="751.3" stroke="#000" stroke-width="2.5" stroke-linecap="butt"/>
<text transform="translate(131.4,756.7) scale(0.92,1)" font-family="'Liberation Sans', Arial, sans-serif" font-size="16" font-weight="bold" text-anchor="end" fill="#000">0.5</text>
<line x1="133.2" y1="779" x2="147.6" y2="779" stroke="#000" stroke-width="2.5" stroke-linecap="butt"/>
<text transform="translate(131.4,784.4) scale(0.92,1)" font-family="'Liberation Sans', Arial, sans-serif" font-size="16" font-weight="bold" text-anchor="end" fill="#000">0.3</text>
<line x1="133.2" y1="795.9" x2="147.6" y2="795.9" stroke="#000" stroke-width="2.5" stroke-linecap="butt"/>
<text transform="translate(131.4,801.3) scale(0.92,1)" font-family="'Liberation Sans', Arial, sans-serif" font-size="16" font-weight="bold" text-anchor="end" fill="#000">0.2</text>
<line x1="133.2" y1="864.4" x2="142.6" y2="864.4" stroke="#000" stroke-width="2.5" stroke-linecap="butt"/>
<text transform="translate(131.4,869.8) scale(0.92,1)" font-family="'Liberation Sans', Arial, sans-serif" font-size="16" font-weight="bold" text-anchor="end" fill="#000">0.1</text>
<line x1="133.2" y1="933.4" x2="142.6" y2="933.4" stroke="#000" stroke-width="2.5" stroke-linecap="butt"/>
<text transform="translate(131.4,938.8) scale(0.92,1)" font-family="'Liberation Sans', Arial, sans-serif" font-size="16" font-weight="bold" text-anchor="end" fill="#000">0.0</text>
<line x1="132.7" y1="933.9" x2="679.5" y2="933.9" stroke="#000" stroke-width="3.8" stroke-linecap="butt"/>
<rect x="155.9" y="795.7" width="24.8" height="137.7" fill="#fff"/>
<line x1="156.7" y1="795.7" x2="156.7" y2="933.4" stroke="#000" stroke-width="1.6"/>
<line x1="179.6" y1="795.7" x2="179.6" y2="933.4" stroke="#000" stroke-width="2.2"/>
<rect x="155.9" y="729.3" width="24.8" height="49.7" fill="#fff"/>
<path d="M156.7,779 V730.4 H179.6 V779" fill="none" stroke="#000" stroke-width="2.2"/>
<line x1="168.5" y1="729.3" x2="168.5" y2="727.1" stroke="#000" stroke-width="1.8" stroke-linecap="butt"/>
<line x1="163" y1="727.1" x2="174" y2="727.1" stroke="#000" stroke-width="2.1" stroke-linecap="butt"/>
<circle cx="158" cy="723.8" r="2.6" fill="#000"/>
<circle cx="158" cy="737" r="2.6" fill="#000"/>
<circle cx="171.6" cy="727.1" r="2.6" fill="#000"/>
<circle cx="178.2" cy="731.5" r="2.6" fill="#000"/>
<rect x="184.1" y="795.7" width="25" height="137.7" fill="#0000fb"/>
<line x1="185" y1="795.7" x2="185" y2="933.4" stroke="#000070" stroke-width="1.8"/>
<line x1="208.2" y1="795.7" x2="208.2" y2="933.4" stroke="#000070" stroke-width="1.8"/>
<rect x="184.1" y="748.5" width="25" height="30.5" fill="#0000fb"/>
<path d="M185,779 V749.4 H208.2 V779" fill="none" stroke="#000070" stroke-width="1.8"/>
<line x1="196.5" y1="748.5" x2="196.5" y2="746" stroke="#000" stroke-width="1.8" stroke-linecap="butt"/>
<line x1="192.5" y1="746" x2="200.5" y2="746" stroke="#000" stroke-width="2.1" stroke-linecap="butt"/>
<circle cx="188" cy="748" r="2.6" fill="#000"/>
<circle cx="193.6" cy="745.8" r="2.6" fill="#000"/>
<circle cx="199.1" cy="745.8" r="2.6" fill="#000"/>
<circle cx="204.6" cy="746.9" r="2.6" fill="#000"/>
<line x1="181.9" y1="933.4" x2="181.9" y2="943.6" stroke="#000" stroke-width="2.6" stroke-linecap="butt"/>
<text transform="translate(188.2,965.2) scale(0.92,1) rotate(-45)" font-family="'Liberation Sans', Arial, sans-serif" font-size="19.9" font-weight="bold" text-anchor="end" fill="#000">Glu C4</text>
<rect x="231.6" y="856.5" width="24.8" height="76.9" fill="#fff"/>
<path d="M232.7,933.4 V857.6 H255.3 V933.4" fill="none" stroke="#000" stroke-width="2.2"/>
<line x1="244" y1="856.5" x2="244" y2="838.4" stroke="#000" stroke-width="1.8" stroke-linecap="butt"/>
<line x1="238" y1="838.4" x2="250" y2="838.4" stroke="#000" stroke-width="2.1" stroke-linecap="butt"/>
<circle cx="243.9" cy="836.6" r="2.6" fill="#000"/>
<circle cx="243.9" cy="848.5" r="2.6" fill="#000"/>
<circle cx="243.9" cy="876.3" r="2.6" fill="#000"/>
<rect x="259.8" y="869.1" width="25" height="64.3" fill="#0000fb"/>
<path d="M260.7,933.4 V870 H283.9 V933.4" fill="none" stroke="#000070" stroke-width="1.8"/>
<line x1="271.8" y1="869.1" x2="271.8" y2="859.8" stroke="#000" stroke-width="1.8" stroke-linecap="butt"/>
<line x1="265.3" y1="859.8" x2="278.3" y2="859.8" stroke="#000" stroke-width="2.1" stroke-linecap="butt"/>
<circle cx="262" cy="862.7" r="2.6" fill="#000"/>
<circle cx="282.5" cy="863.9" r="2.6" fill="#000"/>
<circle cx="272" cy="866.3" r="2.6" fill="#000"/>
<circle cx="272" cy="881.1" r="2.6" fill="#000"/>
<line x1="257.6" y1="933.4" x2="257.6" y2="943.6" stroke="#000" stroke-width="2.6" stroke-linecap="butt"/>
<text transform="translate(263.9,965.2) scale(0.92,1) rotate(-45)" font-family="'Liberation Sans', Arial, sans-serif" font-size="19.9" font-weight="bold" text-anchor="end" fill="#000">GABA C2</text>
<rect x="307.3" y="795.7" width="24.8" height="137.7" fill="#fff"/>
<line x1="308.1" y1="795.7" x2="308.1" y2="933.4" stroke="#000" stroke-width="1.6"/>
<line x1="331" y1="795.7" x2="331" y2="933.4" stroke="#000" stroke-width="2.2"/>
<rect x="307.3" y="696.4" width="24.8" height="82.6" fill="#fff"/>
<line x1="308.1" y1="696.4" x2="308.1" y2="779" stroke="#000" stroke-width="1.6"/>
<line x1="331" y1="696.4" x2="331" y2="779" stroke="#000" stroke-width="2.2"/>
<rect x="307.3" y="647.5" width="24.8" height="32.4" fill="#fff"/>
<path d="M308.1,679.9 V648.6 H331 V679.9" fill="none" stroke="#000" stroke-width="2.2"/>
<line x1="320.2" y1="647.5" x2="320.2" y2="642.2" stroke="#000" stroke-width="1.8" stroke-linecap="butt"/>
<line x1="313.2" y1="642.2" x2="327.2" y2="642.2" stroke="#000" stroke-width="2.1" stroke-linecap="butt"/>
<circle cx="309.5" cy="649.8" r="2.6" fill="#000"/>
<circle cx="319.4" cy="647.5" r="2.6" fill="#000"/>
<circle cx="329.4" cy="640.7" r="2.6" fill="#000"/>
<circle cx="329.4" cy="648.3" r="2.6" fill="#000"/>
<rect x="335.5" y="795.7" width="25" height="137.7" fill="#0000fb"/>
<line x1="336.4" y1="795.7" x2="336.4" y2="933.4" stroke="#000070" stroke-width="1.8"/>
<line x1="359.6" y1="795.7" x2="359.6" y2="933.4" stroke="#000070" stroke-width="1.8"/>
<rect x="335.5" y="696.4" width="25" height="82.6" fill="#0000fb"/>
<line x1="336.4" y1="696.4" x2="336.4" y2="779" stroke="#000070" stroke-width="1.8"/>
<line x1="359.6" y1="696.4" x2="359.6" y2="779" stroke="#000070" stroke-width="1.8"/>
<rect x="335.5" y="639.9" width="25" height="40" fill="#0000fb"/>
<path d="M336.4,679.9 V640.8 H359.6 V679.9" fill="none" stroke="#000070" stroke-width="1.8"/>
<circle cx="343.9" cy="636.8" r="2.6" fill="#000"/>
<circle cx="350" cy="638.4" r="2.6" fill="#000"/>
<circle cx="354.6" cy="638.4" r="2.6" fill="#000"/>
<circle cx="358.4" cy="638.4" r="2.6" fill="#000"/>
<line x1="333.3" y1="933.4" x2="333.3" y2="943.6" stroke="#000" stroke-width="2.6" stroke-linecap="butt"/>
<text transform="translate(339.6,965.2) scale(0.92,1) rotate(-45)" font-family="'Liberation Sans', Arial, sans-serif" font-size="19.9" font-weight="bold" text-anchor="end" fill="#000">Lactate C3</text>
<rect x="383" y="830.1" width="24.8" height="103.3" fill="#fff"/>
<path d="M384.1,933.4 V831.2 H406.7 V933.4" fill="none" stroke="#000" stroke-width="2.2"/>
<line x1="394.8" y1="830.1" x2="394.8" y2="827.4" stroke="#000" stroke-width="1.8" stroke-linecap="butt"/>
<line x1="387.8" y1="827.4" x2="401.8" y2="827.4" stroke="#000" stroke-width="2.1" stroke-linecap="butt"/>
<circle cx="385.4" cy="825.4" r="2.6" fill="#000"/>
<circle cx="385.4" cy="834.1" r="2.6" fill="#000"/>
<circle cx="394.8" cy="828.8" r="2.6" fill="#000"/>
<circle cx="405.5" cy="830.1" r="2.6" fill="#000"/>
<rect x="411.2" y="851.5" width="25" height="81.9" fill="#0000fb"/>
<path d="M412.1,933.4 V852.4 H435.3 V933.4" fill="none" stroke="#000070" stroke-width="1.8"/>
<line x1="423.9" y1="851.5" x2="423.9" y2="836.8" stroke="#000" stroke-width="1.8" stroke-linecap="butt"/>
<line x1="418.4" y1="836.8" x2="429.4" y2="836.8" stroke="#000" stroke-width="2.1" stroke-linecap="butt"/>
<circle cx="423.3" cy="831.5" r="2.6" fill="#000"/>
<circle cx="417.5" cy="851.5" r="2.6" fill="#000"/>
<circle cx="428.6" cy="854.9" r="2.6" fill="#000"/>
<circle cx="423.3" cy="864.3" r="2.6" fill="#000"/>
<line x1="409" y1="933.4" x2="409" y2="943.6" stroke="#000" stroke-width="2.6" stroke-linecap="butt"/>
<text transform="translate(415.3,965.2) scale(0.92,1) rotate(-45)" font-family="'Liberation Sans', Arial, sans-serif" font-size="19.9" font-weight="bold" text-anchor="end" fill="#000">Gln C4</text>
<rect x="458.7" y="882.3" width="24.8" height="51.1" fill="#fff"/>
<path d="M459.8,933.4 V883.4 H482.4 V933.4" fill="none" stroke="#000" stroke-width="2.2"/>
<line x1="470.4" y1="882.3" x2="470.4" y2="870.3" stroke="#000" stroke-width="1.8" stroke-linecap="butt"/>
<line x1="463.9" y1="870.3" x2="476.9" y2="870.3" stroke="#000" stroke-width="2.1" stroke-linecap="butt"/>
<circle cx="464.4" cy="873" r="2.6" fill="#000"/>
<circle cx="476.4" cy="871" r="2.6" fill="#000"/>
<circle cx="470.4" cy="883.7" r="2.6" fill="#000"/>
<circle cx="470.4" cy="899.1" r="2.6" fill="#000"/>
<line x1="484.7" y1="933.4" x2="484.7" y2="943.6" stroke="#000" stroke-width="2.6" stroke-linecap="butt"/>
<text transform="translate(491,965.2) scale(0.92,1) rotate(-45)" font-family="'Liberation Sans', Arial, sans-serif" font-size="19.9" font-weight="bold" text-anchor="end" fill="#000">Asp C3</text>
<rect x="534.4" y="795.7" width="24.8" height="137.7" fill="#fff"/>
<line x1="535.2" y1="795.7" x2="535.2" y2="933.4" stroke="#000" stroke-width="1.6"/>
<line x1="558.1" y1="795.7" x2="558.1" y2="933.4" stroke="#000" stroke-width="2.2"/>
<rect x="534.4" y="752.7" width="24.8" height="26.3" fill="#fff"/>
<path d="M535.2,779 V753.8 H558.1 V779" fill="none" stroke="#000" stroke-width="2.2"/>
<line x1="546.8" y1="752.7" x2="546.8" y2="750.4" stroke="#000" stroke-width="1.8" stroke-linecap="butt"/>
<line x1="539.8" y1="750.4" x2="553.8" y2="750.4" stroke="#000" stroke-width="2.1" stroke-linecap="butt"/>
<circle cx="536.5" cy="747.4" r="2.6" fill="#000"/>
<circle cx="536.5" cy="755.8" r="2.6" fill="#000"/>
<circle cx="546.8" cy="751.2" r="2.6" fill="#000"/>
<circle cx="556.7" cy="753.5" r="2.6" fill="#000"/>
<rect x="562.6" y="795.7" width="25" height="137.7" fill="#0000fb"/>
<line x1="563.5" y1="795.7" x2="563.5" y2="933.4" stroke="#000070" stroke-width="1.8"/>
<line x1="586.7" y1="795.7" x2="586.7" y2="933.4" stroke="#000070" stroke-width="1.8"/>
<rect x="562.6" y="774" width="25" height="5" fill="#0000fb"/>
<path d="M563.5,779 V774.9 H586.7 V779" fill="none" stroke="#000070" stroke-width="1.8"/>
<circle cx="564.4" cy="775.7" r="2.6" fill="#000"/>
<circle cx="571.2" cy="771.8" r="2.6" fill="#000"/>
<circle cx="577.4" cy="772.6" r="2.6" fill="#000"/>
<circle cx="585" cy="772.6" r="2.6" fill="#000"/>
<line x1="560.4" y1="933.4" x2="560.4" y2="943.6" stroke="#000" stroke-width="2.6" stroke-linecap="butt"/>
<text transform="translate(566.7,965.2) scale(0.92,1) rotate(-45)" font-family="'Liberation Sans', Arial, sans-serif" font-size="19.9" font-weight="bold" text-anchor="end" fill="#000">Ala C3</text>
<rect x="610.1" y="851.6" width="24.8" height="81.8" fill="#fff"/>
<path d="M611.2,933.4 V852.7 H633.8 V933.4" fill="none" stroke="#000" stroke-width="2.2"/>
<line x1="625" y1="851.6" x2="625" y2="847" stroke="#000" stroke-width="1.8" stroke-linecap="butt"/>
<line x1="617" y1="847" x2="633" y2="847" stroke="#000" stroke-width="2.1" stroke-linecap="butt"/>
<circle cx="612" cy="853.3" r="2.6" fill="#000"/>
<circle cx="621.8" cy="847.5" r="2.6" fill="#000"/>
<circle cx="632.1" cy="845.3" r="2.6" fill="#000"/>
<circle cx="632.1" cy="854.4" r="2.6" fill="#000"/>
<rect x="638.3" y="822.9" width="25" height="110.5" fill="#0000fb"/>
<path d="M639.2,933.4 V823.8 H662.4 V933.4" fill="none" stroke="#000070" stroke-width="1.8"/>
<line x1="650.4" y1="822.9" x2="650.4" y2="803.2" stroke="#000" stroke-width="1.8" stroke-linecap="butt"/>
<line x1="644.7" y1="803.2" x2="656.1" y2="803.2" stroke="#000" stroke-width="2.1" stroke-linecap="butt"/>
<circle cx="650" cy="800.9" r="2.6" fill="#000"/>
<circle cx="650" cy="810.8" r="2.6" fill="#000"/>
<circle cx="650" cy="834.6" r="2.6" fill="#000"/>
<circle cx="650" cy="842.2" r="2.6" fill="#000"/>
<line x1="636.1" y1="933.4" x2="636.1" y2="943.6" stroke="#000" stroke-width="2.6" stroke-linecap="butt"/>
<text transform="translate(642.4,965.2) scale(0.92,1) rotate(-45)" font-family="'Liberation Sans', Arial, sans-serif" font-size="19.9" font-weight="bold" text-anchor="end" fill="#000">Citrate C2</text>
<line x1="132.7" y1="933.9" x2="679.5" y2="933.9" stroke="#000" stroke-width="3.8" stroke-linecap="butt"/>
<text transform="translate(490.2,925.2) scale(0.91,1)" font-family="'Liberation Serif', 'Times New Roman', serif" font-size="13.3" font-weight="bold" text-anchor="start" fill="#000">ND</text>
<line x1="158.9" y1="709.3" x2="205.3" y2="709.3" stroke="#1d1dc4" stroke-width="3.6" stroke-linecap="butt"/>
<text transform="translate(182.6,712.87)" font-family="'Liberation Sans', Arial, sans-serif" font-size="34" font-weight="bold" text-anchor="middle" fill="#1d1dc4">*</text>
<line x1="537.6" y1="735.4" x2="584.2" y2="735.4" stroke="#1d1dc4" stroke-width="3.6" stroke-linecap="butt"/>
<text transform="translate(561,737.77)" font-family="'Liberation Sans', Arial, sans-serif" font-size="34" font-weight="bold" text-anchor="middle" fill="#1d1dc4">*</text>
<line x1="614.1" y1="789.4" x2="660" y2="789.4" stroke="#1d1dc4" stroke-width="3.6" stroke-linecap="butt"/>
<text transform="translate(637,792.07)" font-family="'Liberation Sans', Arial, sans-serif" font-size="34" font-weight="bold" text-anchor="middle" fill="#1d1dc4">*</text>
<text transform="translate(783.4,614.5) scale(0.97,1)" font-family="'Liberation Sans', Arial, sans-serif" font-size="49.5" font-weight="bold" text-anchor="start" fill="#000">D</text>
<text transform="translate(1171.2,589.8)" font-family="'Liberation Sans', Arial, sans-serif" font-size="28.7" font-weight="normal" text-anchor="start" fill="#d42a2e">Isotopomers formed</text>
<text x="1173" y="624.5" font-family="'Liberation Sans', Arial, sans-serif" font-size="28.7" fill="#d42a2e">from [1,2-<tspan font-size="21" dy="-8.7">13</tspan><tspan dy="8.7">C]acetate</tspan></text>
<text transform="translate(807.2,775.2) scale(0.86,1) rotate(-90)" font-family="'Liberation Sans', Arial, sans-serif" font-size="22.4" font-weight="normal" text-anchor="middle" fill="#000" stroke="#000" stroke-width="0.45">Incorporation of <tspan font-size="17" dy="-8.5">13</tspan><tspan dy="8.5">C</tspan></text>
<text transform="translate(832.9,775) scale(0.86,1) rotate(-90)" font-family="'Liberation Sans', Arial, sans-serif" font-size="21.2" font-weight="bold" text-anchor="middle" fill="#000">(µmol/100 mg protein/90 min)</text>
<line x1="884" y1="725.4" x2="884" y2="927.2" stroke="#000" stroke-width="2.4" stroke-linecap="butt"/>
<line x1="884" y1="622.1" x2="884" y2="711" stroke="#000" stroke-width="2.4" stroke-linecap="butt"/>
<line x1="875.4" y1="623.4" x2="884" y2="623.4" stroke="#000" stroke-width="2.5" stroke-linecap="butt"/>
<text transform="translate(870.9,629.3) scale(0.91,1)" font-family="'Liberation Sans', Arial, sans-serif" font-size="15.6" font-weight="bold" text-anchor="end" fill="#000">0.20</text>
<line x1="875.4" y1="667" x2="884" y2="667" stroke="#000" stroke-width="2.5" stroke-linecap="butt"/>
<text transform="translate(870.9,672.9) scale(0.91,1)" font-family="'Liberation Sans', Arial, sans-serif" font-size="15.6" font-weight="bold" text-anchor="end" fill="#000">0.15</text>
<line x1="875.4" y1="709.9" x2="889" y2="709.9" stroke="#000" stroke-width="2.5" stroke-linecap="butt"/>
<text transform="translate(870.9,715.8) scale(0.91,1)" font-family="'Liberation Sans', Arial, sans-serif" font-size="15.6" font-weight="bold" text-anchor="end" fill="#000">0.10</text>
<line x1="875.4" y1="726.5" x2="889" y2="726.5" stroke="#000" stroke-width="2.5" stroke-linecap="butt"/>
<line x1="875.4" y1="765.7" x2="884" y2="765.7" stroke="#000" stroke-width="2.5" stroke-linecap="butt"/>
<text transform="translate(870.9,771.6) scale(0.91,1)" font-family="'Liberation Sans', Arial, sans-serif" font-size="15.6" font-weight="bold" text-anchor="end" fill="#000">0.04</text>
<line x1="875.4" y1="847.6" x2="884" y2="847.6" stroke="#000" stroke-width="2.5" stroke-linecap="butt"/>
<text transform="translate(870.9,853.5) scale(0.91,1)" font-family="'Liberation Sans', Arial, sans-serif" font-size="15.6" font-weight="bold" text-anchor="end" fill="#000">0.02</text>
<line x1="875.4" y1="927.2" x2="884" y2="927.2" stroke="#000" stroke-width="2.5" stroke-linecap="butt"/>
<text transform="translate(870.9,933.1) scale(0.91,1)" font-family="'Liberation Sans', Arial, sans-serif" font-size="15.6" font-weight="bold" text-anchor="end" fill="#000">0.00</text>
<line x1="875.9" y1="927.6" x2="1406" y2="927.6" stroke="#000" stroke-width="3.5" stroke-linecap="butt"/>
<rect x="901.6" y="726.5" width="33.6" height="200.7" fill="#fff"/>
<line x1="902.4" y1="726.5" x2="902.4" y2="927.2" stroke="#000" stroke-width="1.6"/>
<line x1="934" y1="726.5" x2="934" y2="927.2" stroke="#000" stroke-width="2.4"/>
<rect x="901.6" y="675.9" width="33.6" height="34" fill="#fff"/>
<path d="M902.4,709.9 V677.1 H934 V709.9" fill="none" stroke="#000" stroke-width="2.4"/>
<line x1="918.3" y1="675.9" x2="918.3" y2="668.1" stroke="#000" stroke-width="2" stroke-linecap="butt"/>
<line x1="912.8" y1="668.1" x2="923.8" y2="668.1" stroke="#000" stroke-width="2.3" stroke-linecap="butt"/>
<circle cx="912.6" cy="669" r="2.8" fill="#000"/>
<circle cx="912.6" cy="683.5" r="2.8" fill="#000"/>
<circle cx="924.4" cy="667.2" r="2.8" fill="#000"/>
<circle cx="924.4" cy="679.9" r="2.8" fill="#000"/>
<rect x="939.8" y="726.5" width="34.6" height="200.7" fill="#f94242"/>
<line x1="941" y1="726.5" x2="941" y2="927.2" stroke="#1a0000" stroke-width="2.4"/>
<line x1="973.2" y1="726.5" x2="973.2" y2="927.2" stroke="#1a0000" stroke-width="2.4"/>
<rect x="939.8" y="689" width="34.6" height="20.9" fill="#f94242"/>
<path d="M941,709.9 V690.2 H973.2 V709.9" fill="none" stroke="#1a0000" stroke-width="2.4"/>
<line x1="957.7" y1="689" x2="957.7" y2="679" stroke="#000" stroke-width="2" stroke-linecap="butt"/>
<line x1="949.7" y1="679" x2="965.7" y2="679" stroke="#000" stroke-width="2.3" stroke-linecap="butt"/>
<circle cx="957.1" cy="677.2" r="2.8" fill="#000"/>
<circle cx="957.1" cy="685.3" r="2.8" fill="#000"/>
<circle cx="950.8" cy="696.2" r="2.8" fill="#000"/>
<circle cx="963.5" cy="694.4" r="2.8" fill="#000"/>
<line x1="937.4" y1="927.2" x2="937.4" y2="937.5" stroke="#000" stroke-width="2.6" stroke-linecap="butt"/>
<text transform="translate(942,955.6) scale(0.9,1) rotate(-45)" font-family="'Liberation Sans', Arial, sans-serif" font-size="20.7" font-weight="bold" text-anchor="end" fill="#000">Glu C4,5</text>
<rect x="1004.7" y="858" width="33.6" height="69.2" fill="#fff"/>
<path d="M1005.9,927.2 V859.2 H1037.1 V927.2" fill="none" stroke="#000" stroke-width="2.4"/>
<line x1="1021.6" y1="858" x2="1021.6" y2="835.7" stroke="#000" stroke-width="2" stroke-linecap="butt"/>
<line x1="1013.6" y1="835.7" x2="1029.6" y2="835.7" stroke="#000" stroke-width="2.3" stroke-linecap="butt"/>
<circle cx="1021.6" cy="824.7" r="2.8" fill="#000"/>
<circle cx="1015.4" cy="861.4" r="2.8" fill="#000"/>
<circle cx="1027.3" cy="867.8" r="2.8" fill="#000"/>
<circle cx="1021.6" cy="875.2" r="2.8" fill="#000"/>
<rect x="1042.9" y="862.1" width="34.6" height="65.1" fill="#f94242"/>
<path d="M1044.1,927.2 V863.3 H1076.3 V927.2" fill="none" stroke="#1a0000" stroke-width="2.4"/>
<line x1="1060.5" y1="862.1" x2="1060.5" y2="843.7" stroke="#000" stroke-width="2" stroke-linecap="butt"/>
<line x1="1052.5" y1="843.7" x2="1068.5" y2="843.7" stroke="#000" stroke-width="2.3" stroke-linecap="butt"/>
<circle cx="1053.7" cy="847.6" r="2.8" fill="#000"/>
<circle cx="1066.3" cy="846.5" r="2.8" fill="#000"/>
<circle cx="1053.7" cy="879.8" r="2.8" fill="#000"/>
<circle cx="1066.3" cy="874" r="2.8" fill="#000"/>
<line x1="1040.5" y1="927.2" x2="1040.5" y2="937.5" stroke="#000" stroke-width="2.6" stroke-linecap="butt"/>
<text transform="translate(1045.1,955.6) scale(0.9,1) rotate(-45)" font-family="'Liberation Sans', Arial, sans-serif" font-size="20.7" font-weight="bold" text-anchor="end" fill="#000">GABA C2,1</text>
<rect x="1107.8" y="776.7" width="33.6" height="150.5" fill="#fff"/>
<path d="M1109,927.2 V777.9 H1140.2 V927.2" fill="none" stroke="#000" stroke-width="2.4"/>
<line x1="1124.7" y1="776.7" x2="1124.7" y2="748.5" stroke="#000" stroke-width="2" stroke-linecap="butt"/>
<line x1="1116.2" y1="748.5" x2="1133.2" y2="748.5" stroke="#000" stroke-width="2.3" stroke-linecap="butt"/>
<circle cx="1124.7" cy="746.8" r="2.8" fill="#000"/>
<circle cx="1124.7" cy="757.4" r="2.8" fill="#000"/>
<circle cx="1124.7" cy="795.6" r="2.8" fill="#000"/>
<circle cx="1124.7" cy="803.6" r="2.8" fill="#000"/>
<rect x="1146" y="783" width="34.6" height="144.2" fill="#f94242"/>
<path d="M1147.2,927.2 V784.2 H1179.4 V927.2" fill="none" stroke="#1a0000" stroke-width="2.4"/>
<line x1="1162.9" y1="783" x2="1162.9" y2="756.9" stroke="#000" stroke-width="2" stroke-linecap="butt"/>
<line x1="1154.4" y1="756.9" x2="1171.4" y2="756.9" stroke="#000" stroke-width="2.3" stroke-linecap="butt"/>
<circle cx="1162.6" cy="746.4" r="2.8" fill="#000"/>
<circle cx="1162.6" cy="780.5" r="2.8" fill="#000"/>
<circle cx="1156.9" cy="802.6" r="2.8" fill="#000"/>
<circle cx="1168.9" cy="798.4" r="2.8" fill="#000"/>
<line x1="1143.6" y1="927.2" x2="1143.6" y2="937.5" stroke="#000" stroke-width="2.6" stroke-linecap="butt"/>
<text transform="translate(1148.2,955.6) scale(0.9,1) rotate(-45)" font-family="'Liberation Sans', Arial, sans-serif" font-size="20.7" font-weight="bold" text-anchor="end" fill="#000">Gln C4,5</text>
<rect x="1210.9" y="855.8" width="33.6" height="71.4" fill="#fff"/>
<path d="M1212.1,927.2 V857 H1243.3 V927.2" fill="none" stroke="#000" stroke-width="2.4"/>
<line x1="1227.8" y1="855.8" x2="1227.8" y2="838.4" stroke="#000" stroke-width="2" stroke-linecap="butt"/>
<line x1="1219.3" y1="838.4" x2="1236.3" y2="838.4" stroke="#000" stroke-width="2.3" stroke-linecap="butt"/>
<circle cx="1221.5" cy="838.4" r="2.8" fill="#000"/>
<circle cx="1234.1" cy="838.4" r="2.8" fill="#000"/>
<circle cx="1227.8" cy="863.6" r="2.8" fill="#000"/>
<circle cx="1227.8" cy="879.4" r="2.8" fill="#000"/>
<line x1="1246.7" y1="927.2" x2="1246.7" y2="937.5" stroke="#000" stroke-width="2.6" stroke-linecap="butt"/>
<text transform="translate(1251.3,955.6) scale(0.9,1) rotate(-45)" font-family="'Liberation Sans', Arial, sans-serif" font-size="20.7" font-weight="bold" text-anchor="end" fill="#000">Asp C3,4</text>
<rect x="1314" y="824.7" width="33.6" height="102.5" fill="#fff"/>
<path d="M1315.2,927.2 V825.9 H1346.4 V927.2" fill="none" stroke="#000" stroke-width="2.4"/>
<line x1="1330.9" y1="824.7" x2="1330.9" y2="811" stroke="#000" stroke-width="2" stroke-linecap="butt"/>
<line x1="1322.4" y1="811" x2="1339.4" y2="811" stroke="#000" stroke-width="2.3" stroke-linecap="butt"/>
<circle cx="1324.6" cy="818.8" r="2.8" fill="#000"/>
<circle cx="1336.2" cy="814.2" r="2.8" fill="#000"/>
<circle cx="1336.6" cy="822.6" r="2.8" fill="#000"/>
<circle cx="1330.9" cy="843.2" r="2.8" fill="#000"/>
<rect x="1352.2" y="801.1" width="34.6" height="126.1" fill="#f94242"/>
<path d="M1353.4,927.2 V802.3 H1385.6 V927.2" fill="none" stroke="#1a0000" stroke-width="2.4"/>
<line x1="1369.6" y1="801.1" x2="1369.6" y2="771.7" stroke="#000" stroke-width="2" stroke-linecap="butt"/>
<line x1="1361.1" y1="771.7" x2="1378.1" y2="771.7" stroke="#000" stroke-width="2.3" stroke-linecap="butt"/>
<circle cx="1369.4" cy="770" r="2.8" fill="#000"/>
<circle cx="1369.4" cy="780.5" r="2.8" fill="#000"/>
<circle cx="1363.1" cy="825.1" r="2.8" fill="#000"/>
<circle cx="1375.7" cy="823.6" r="2.8" fill="#000"/>
<line x1="1349.8" y1="927.2" x2="1349.8" y2="937.5" stroke="#000" stroke-width="2.6" stroke-linecap="butt"/>
<text transform="translate(1354.4,955.6) scale(0.9,1) rotate(-45)" font-family="'Liberation Sans', Arial, sans-serif" font-size="20.7" font-weight="bold" text-anchor="end" fill="#000">Citrate C1,2</text>
<line x1="875.9" y1="927.6" x2="1406" y2="927.6" stroke="#000" stroke-width="3.5" stroke-linecap="butt"/>
<text transform="translate(1250.8,918.3) scale(1.04,1)" font-family="'Liberation Serif', 'Times New Roman', serif" font-size="13" font-weight="bold" text-anchor="start" fill="#000">ND</text>
</svg></body></html>
